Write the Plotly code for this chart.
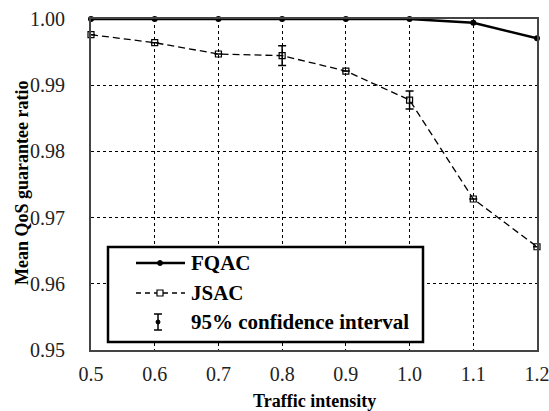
import plotly.graph_objects as go

traffic = [0.5, 0.6, 0.7, 0.8, 0.9, 1.0, 1.1, 1.2]
fqac = [1.0, 1.0, 1.0, 1.0, 1.0, 1.0, 0.99944, 0.99708]
jsac = [0.99763, 0.99642, 0.99471, 0.99446, 0.99214, 0.98776, 0.97281, 0.96560]
jsac_ci = [0, 0, 0, 0.0015, 0, 0.00136, 0, 0]
x_ticks = [0.5, 0.6, 0.7, 0.8, 0.9, 1.0, 1.1, 1.2]
x_ticktext = ["0.5", "0.6", "0.7", "0.8", "0.9", "1.0", "1.1", "1.2"]
y_ticks = [0.95, 0.96, 0.97, 0.98, 0.99, 1.00]
y_ticktext = ["0.95", "0.96", "0.97", "0.98", "0.99", "1.00"]

W, H = 549, 411
L, R, T, B = 91, 537, 19, 350
FONT = "Liberation Serif, Times New Roman, serif"

fig = go.Figure()
fig.add_trace(go.Scatter(
    x=traffic, y=fqac, mode="lines+markers", name="FQAC",
    line=dict(color="black", width=2.5),
    marker=dict(symbol="circle", size=6, color="black"),
    cliponaxis=False, showlegend=False))
fig.add_trace(go.Scatter(
    x=traffic, y=jsac, mode="lines+markers", name="JSAC",
    line=dict(color="black", width=1.3, dash="7px,4px"),
    marker=dict(symbol="square-open", size=6, color="black", line=dict(width=1.2)),
    error_y=dict(type="data", array=jsac_ci, visible=True, color="black", thickness=1.5, width=4),
    cliponaxis=False, showlegend=False))

def px(xp):
    return (xp - L) / (R - L)

def py(yp):
    return (B - yp) / (B - T)

shapes = []
annotations = []
# legend box
shapes.append(dict(type="rect", xref="paper", yref="paper",
                   x0=px(108), x1=px(423), y0=py(342), y1=py(247),
                   line=dict(color="black", width=2.5), fillcolor="white", layer="above"))
# FQAC sample
shapes.append(dict(type="line", xref="paper", yref="paper", x0=px(136), x1=px(185), y0=py(263), y1=py(263),
                   line=dict(color="black", width=2.5), layer="above"))
shapes.append(dict(type="circle", xref="paper", yref="paper", x0=px(157.5), x1=px(162.5), y0=py(265.5), y1=py(260.5),
                   line=dict(color="black", width=1), fillcolor="black", layer="above"))
# JSAC sample
shapes.append(dict(type="line", xref="paper", yref="paper", x0=px(136), x1=px(185), y0=py(293), y1=py(293),
                   line=dict(color="black", width=1.3, dash="5px,4px"), layer="above"))
shapes.append(dict(type="rect", xref="paper", yref="paper", x0=px(157), x1=px(163), y0=py(296), y1=py(290),
                   line=dict(color="black", width=1.2), fillcolor="white", layer="above"))
# CI sample
shapes.append(dict(type="line", xref="paper", yref="paper", x0=px(158), x1=px(158), y0=py(330), y1=py(314),
                   line=dict(color="black", width=1.5), layer="above"))
for yy in (314, 330):
    shapes.append(dict(type="line", xref="paper", yref="paper", x0=px(154), x1=px(162), y0=py(yy), y1=py(yy),
                       line=dict(color="black", width=1.5), layer="above"))
shapes.append(dict(type="circle", xref="paper", yref="paper", x0=px(156), x1=px(160), y0=py(324), y1=py(320),
                   line=dict(color="black", width=1), fillcolor="black", layer="above"))

for label, yy in (("FQAC", 263), ("JSAC", 293), ("95% confidence interval", 322)):
    annotations.append(dict(text="<b>%s</b>" % label, xref="paper", yref="paper",
                            x=px(189), y=py(yy), xanchor="left", yanchor="middle", showarrow=False,
                            font=dict(family=FONT, size=21, color="black")))

# axis titles
annotations.append(dict(text="<b>Traffic intensity</b>", xref="paper", yref="paper",
                        x=0.5, y=py(401), xanchor="center", yanchor="middle", showarrow=False,
                        font=dict(family=FONT, size=18, color="black")))
annotations.append(dict(text="<b>Mean QoS guarantee ratio</b>", xref="paper", yref="paper",
                        x=px(22), y=py(183), xanchor="center", yanchor="middle", showarrow=False, textangle=-90,
                        font=dict(family=FONT, size=18, color="black")))

fig.update_layout(
    width=W, height=H,
    margin=dict(l=L, r=W - R, t=T, b=H - B, pad=0),
    paper_bgcolor="white", plot_bgcolor="white",
    font=dict(family=FONT, color="#222"),
    shapes=shapes, annotations=annotations,
    xaxis=dict(range=[0.5, 1.2], tickvals=x_ticks, ticktext=x_ticktext, automargin=False,
               ticklabeloverflow="allow",
               showgrid=True, gridcolor="black", griddash="dot", gridwidth=1.3,
               showline=True, linecolor="#444", linewidth=2, mirror=True,
               ticks="", ticklabelstandoff=5, zeroline=False,
               tickfont=dict(family=FONT, size=20, color="#222")),
    yaxis=dict(range=[0.95, 1.0], tickvals=y_ticks, ticktext=y_ticktext, automargin=False,
               ticklabeloverflow="allow",
               showgrid=True, gridcolor="black", griddash="dot", gridwidth=1.3,
               showline=True, linecolor="#444", linewidth=2, mirror=True,
               ticks="", ticklabelstandoff=20, zeroline=False,
               tickfont=dict(family=FONT, size=20, color="#222")),
)

fig.write_html("out.html")
